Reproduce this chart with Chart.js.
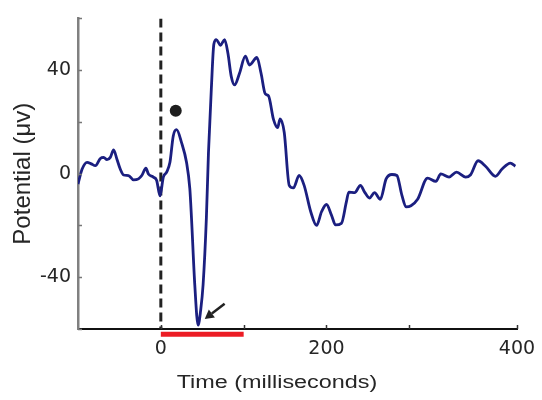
<!DOCTYPE html>
<html>
<head>
<meta charset="utf-8">
<script src="https://cdn.jsdelivr.net/npm/chart.js@4"></script>
<style>
body { margin: 0; background: #fff; }
</style>
</head>
<body>
<canvas id="myChart" width="542" height="400"></canvas>
<script>
// evoked potential trace
var timeMs = [-100, -95, -89, -84, -79, -73, -69, -65, -61, -57, -53, -49, -45, -39, -33, -27, -23, -18, -15, -9, -5, -1, 3, 7, 11, 15, 19, 25, 31, 35, 37, 41, 45, 48, 51, 55, 57.5, 61, 64, 67, 72, 77, 81, 85, 89, 95, 102, 107, 116, 121, 126, 130, 136, 141, 144, 149, 155, 160, 167, 173, 181, 188, 194, 200, 206, 211, 218, 224, 227, 234, 241, 246, 252, 258, 265, 272, 279, 285, 291, 296, 302, 310, 322, 332, 338, 348, 357, 368, 374, 383, 392, 404, 412, 422, 428]
var potential = [-4, 1.8, 4.4, 3.8, 3.1, 5.9, 6.3, 5.4, 6.3, 9.2, 5.6, 1.8, -0.5, -0.7, -2.4, -2, -0.7, 2.1, -0.1, -1.3, -2.6, -8.6, -1.3, 0.6, 4.4, 14.6, 17, 12, 4.4, -5.8, -17, -43, -58.5, -53, -43, -17, 8, 33, 50, 51.8, 49.6, 51.8, 46.5, 37.6, 34.3, 38.8, 45.4, 42, 44.9, 38.8, 30.9, 30.1, 21, 17.8, 21.2, 15.9, -4.5, -5.5, -0.7, -4.5, -14.7, -20, -14.7, -11.9, -16, -19.8, -19.2, -10.9, -7.1, -7.3, -4.5, -7.1, -9.4, -7.3, -9.9, -2, -0.3, -0.7, -8.3, -12.8, -12.4, -9.9, -1.7, -3, -0.1, -1.3, 0.6, -1.3, -0.4, 5, 2.9, -1, 1.8, 4.1, 2.9]

// stimulus onset, stimulation window, marked peak, arrow
var onsetX = [0, 0]
var onsetY = [60, -60]
var windowX = [0, 100]
var windowY = [-62, -62]
var dotX = [18]
var dotY = [24.3]
var arrowFrom = [77, -50.2]
var arrowTo = [53, -56.1]

var xTickValues = [0, 100, 200, 300, 430]
var xTickLabels = ['0', '', '200', '', '400']
var yTickValues = [-60, -40, -20, 0, 20, 40, 60]
var yTickLabels = ['', '-40', '', '0', '', '40', '']
var xTitle = 'Time (milliseconds)'
var yTitle = 'Potential (μv)'

function pts(xs, ys) {
    return xs.map(function (x, i) { return { x: x, y: ys[i] } })
}

var extras = {
    id: 'extras',
    afterDatasetsDraw: function (chart) {
        var ctx = chart.ctx
        var xs = chart.scales.x
        var ys = chart.scales.y
        var a = chart.chartArea
        ctx.save()
        // inward tick marks
        ctx.lineWidth = 1.5
        ctx.strokeStyle = '#777'
        yTickValues.forEach(function (v) {
            var py = Math.round(ys.getPixelForValue(v)) + 0.5
            ctx.beginPath()
            ctx.moveTo(a.left, py)
            ctx.lineTo(a.left + 4, py)
            ctx.stroke()
        })
        ctx.strokeStyle = '#333'
        xTickValues.forEach(function (v) {
            var px = Math.round(xs.getPixelForValue(v)) + 0.5
            ctx.beginPath()
            ctx.moveTo(px, a.bottom)
            ctx.lineTo(px, a.bottom - 4)
            ctx.stroke()
        })
        // arrow
        var x1 = xs.getPixelForValue(arrowFrom[0]), y1 = ys.getPixelForValue(arrowFrom[1])
        var x2 = xs.getPixelForValue(arrowTo[0]), y2 = ys.getPixelForValue(arrowTo[1])
        var ang = Math.atan2(y2 - y1, x2 - x1)
        var hl = 9, hw = 5
        var bx = x2 - hl * Math.cos(ang), by = y2 - hl * Math.sin(ang)
        ctx.strokeStyle = '#222'
        ctx.fillStyle = '#222'
        ctx.lineWidth = 2.5
        ctx.beginPath()
        ctx.moveTo(x1, y1)
        ctx.lineTo(bx, by)
        ctx.stroke()
        ctx.beginPath()
        ctx.moveTo(x2, y2)
        ctx.lineTo(bx + hw * Math.sin(ang), by - hw * Math.cos(ang))
        ctx.lineTo(bx - hw * Math.sin(ang), by + hw * Math.cos(ang))
        ctx.closePath()
        ctx.fill()
        // x axis title, a bit wider like the original figure
        ctx.fillStyle = '#262626'
        ctx.font = '18px "Liberation Sans", Arial, sans-serif'
        ctx.textAlign = 'center'
        ctx.textBaseline = 'middle'
        ctx.translate(277, 383)
        ctx.scale(1.3, 1)
        ctx.fillText(xTitle, 0, 0)
        ctx.restore()
    }
}

var tickFont = { size: 19, family: '"DejaVu Sans", sans-serif' }

var ctx = document.getElementById('myChart').getContext('2d')
var chart = new Chart(ctx, {
    type: 'line',
    data: {
        datasets: [{
            label: 'potential',
            data: pts(timeMs, potential),
            borderColor: '#1b1f80',
            borderWidth: 2.8,
            pointRadius: 0,
            cubicInterpolationMode: 'monotone',
            order: 0
        }, {
            label: 'onset',
            data: pts(onsetX, onsetY),
            borderColor: '#222',
            borderWidth: 3,
            borderDash: [9, 5],
            pointRadius: 0,
            order: 2
        }, {
            label: 'window',
            data: pts(windowX, windowY),
            borderColor: '#ec1c24',
            borderWidth: 5,
            pointRadius: 0,
            clip: false,
            order: 1
        }, {
            label: 'peak',
            data: pts(dotX, dotY),
            showLine: false,
            pointRadius: 6,
            pointBackgroundColor: '#1e1e1e',
            pointBorderWidth: 0,
            order: 1
        }]
    },
    options: {
        responsive: false,
        animation: false,
        layout: { padding: { left: 0, top: 14, right: 25, bottom: 0 } },
        plugins: { legend: { display: false }, tooltip: { enabled: false } },
        scales: {
            x: {
                type: 'linear',
                min: -100,
                max: 430,
                afterBuildTicks: function (scale) {
                    scale.ticks = xTickValues.map(function (v) { return { value: v } })
                },
                afterFit: function (scale) {
                    scale.height = 71
                    scale.paddingLeft = 0
                    scale.paddingRight = 0
                },
                ticks: {
                    autoSkip: false,
                    maxRotation: 0,
                    padding: 9,
                    color: '#262626',
                    font: tickFont,
                    callback: function (v, i) { return xTickLabels[i] }
                },
                grid: { drawOnChartArea: false, drawTicks: false },
                border: { color: '#111', width: 2 }
            },
            y: {
                min: -60,
                max: 60,
                afterBuildTicks: function (scale) {
                    scale.ticks = yTickValues.map(function (v) { return { value: v } })
                },
                afterFit: function (scale) { scale.width = 78 },
                ticks: {
                    autoSkip: false,
                    padding: 7,
                    color: '#262626',
                    font: tickFont,
                    callback: function (v, i) { return yTickLabels[i] }
                },
                grid: { drawOnChartArea: false, drawTicks: false },
                border: { color: '#808080', width: 2.5 },
                title: {
                    display: true,
                    text: yTitle,
                    color: '#262626',
                    padding: { top: 9, bottom: 0 },
                    font: { size: 24, family: '"Liberation Sans", Arial, sans-serif' }
                }
            }
        }
    },
    plugins: [extras]
})
</script>
</body>
</html>
